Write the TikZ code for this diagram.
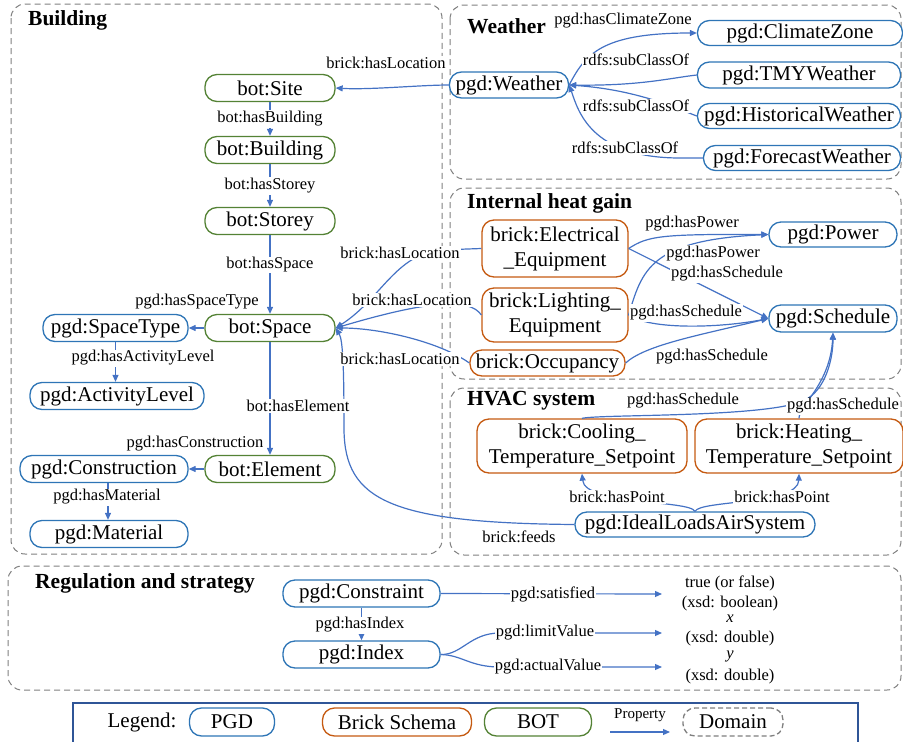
\documentclass[tikz,border=0pt]{standalone}
\usepackage{fontspec}
\setmainfont{Liberation Serif}
\usetikzlibrary{arrows.meta}

\definecolor{pgdblue}{RGB}{46,117,182}
\definecolor{brickorange}{RGB}{197,90,17}
\definecolor{botgreen}{RGB}{84,130,53}
\definecolor{relblue}{RGB}{68,114,196}
\definecolor{domaingray}{RGB}{127,127,127}
\definecolor{legendframe}{RGB}{47,85,151}

\newcommand\nodefont{\fontsize{21}{25}\selectfont}
\newcommand\lblfont{\fontsize{16.5}{18}\selectfont}
\newcommand\valfont{\fontsize{16.5}{20.5}\selectfont}
\newcommand\ttlfont{\fontsize{21.5}{24}\selectfont\bfseries}

\begin{document}
\begin{tikzpicture}[x=1pt,y=-1pt,
  box/.style={rounded corners=12pt, line width=1.3pt, fill=white, minimum height=27pt,
              inner sep=0pt, font=\nodefont, align=center},
  pgd/.style={box, draw=pgdblue},
  brick/.style={box, draw=brickorange},
  bot/.style={box, draw=botgreen},
  domainbox/.style={draw=domaingray, line width=1pt, dash pattern=on 6pt off 4pt, rounded corners=14pt},
  ttl/.style={font=\ttlfont, anchor=west, inner sep=0pt},
  lbl/.style={font=\lblfont, fill=white, inner sep=1pt},
  val/.style={font=\valfont, inner sep=0pt},
  rel/.style={draw=relblue, line width=1.2pt, -{Triangle[length=7pt,width=6pt]}},
]
\useasboundingbox (0,0) rectangle (903,742);

% ---------- domains ----------
\draw[domainbox] (11,4) rectangle (442,554);
\draw[domainbox] (450,5) rectangle (901,179);
\draw[domainbox] (450,188) rectangle (901,379);
\draw[domainbox] (450,388) rectangle (901,555);
\draw[domainbox] (8,566) rectangle (901,690);

% ---------- building ----------
\node[bot, minimum width=130pt] (site) at (270,88) {bot:Site};
\node[bot, minimum width=130pt] (building) at (270,150) {bot:Building};
\node[bot, minimum width=130pt] (storey) at (270,221) {bot:Storey};
\node[bot, minimum width=130pt] (space) at (270,328) {bot:Space};
\node[bot, minimum width=130pt] (element) at (270,469) {bot:Element};
\node[pgd, minimum width=145pt] (spacetype) at (115.5,328) {pgd:SpaceType};
\node[pgd, minimum width=174pt] (activity) at (117,396) {pgd:ActivityLevel};
\node[pgd, minimum width=168pt] (construction) at (104,469) {pgd:Construction};
\node[pgd, minimum width=158pt] (material) at (109,534) {pgd:Material};

% ---------- weather ----------
\node[pgd, minimum width=119pt, minimum height=26pt] (weather) at (509,85) {pgd:Weather};
\node[pgd, minimum width=205pt, minimum height=25pt] (climate) at (800,33) {pgd:ClimateZone};
\node[pgd, minimum width=203pt, minimum height=26pt] (tmy) at (799,75) {pgd:TMYWeather};
\node[pgd, minimum width=203pt, minimum height=25pt] (hist) at (799,116) {pgd:HistoricalWeather};
\node[pgd, minimum width=197pt, minimum height=25pt] (forecast) at (802,158) {pgd:ForecastWeather};

% ---------- internal heat gain ----------
\node[brick, minimum width=146pt, minimum height=57pt] (elec) at (555,248.5) {brick:Electrical\\\_Equipment};
\node[brick, minimum width=146pt, minimum height=54pt] (light) at (555,315) {brick:Lighting\_\\Equipment};
\node[brick, minimum width=155pt, minimum height=26pt] (occ) at (547.5,363) {brick:Occupancy};
\node[pgd, minimum width=128pt, minimum height=25pt] (power) at (833,234.5) {pgd:Power};
\node[pgd, minimum width=128pt, minimum height=27pt] (schedule) at (833,318.5) {pgd:Schedule};

% ---------- HVAC ----------
\node[brick, minimum width=210pt, minimum height=54pt] (cool) at (582,446) {brick:Cooling\_\\Temperature\_Setpoint};
\node[brick, minimum width=208pt, minimum height=54pt] (heat) at (799,446) {brick:Heating\_\\Temperature\_Setpoint};
\node[pgd, minimum width=240pt, minimum height=25pt] (ideal) at (695,524.5) {pgd:IdealLoadsAirSystem};

% ---------- regulation ----------
\node[pgd, minimum width=157pt] (constraint) at (361.5,593.5) {pgd:Constraint};
\node[pgd, minimum width=157pt] (index) at (361.5,654.5) {pgd:Index};
% literal values, one line per node, stacked under each target
\node[val] (boolval) at (730,583) {true (or false)};
\node[val] (booltype) at (730,604) {(xsd: boolean)};
\node[val] (xval) at (730,619) {\textit{x}};
\node[val] (xtype) at (730,639) {(xsd: double)};
\node[val] (yval) at (730,656) {\textit{y}};
\node[val] (ytype) at (730,677) {(xsd: double)};
\coordinate (boolIn) at (662,594);
\coordinate (limitIn) at (662,633);
\coordinate (actualIn) at (662,667);

% ---------- connectors ----------
\draw[rel] (weather.west) .. controls (420,85) and (370,90) .. (site.east);
\draw[rel] (site.south) -- (building.north);
\draw[rel] (building.south) -- (storey.north);
\draw[rel] (storey.south) -- (space.north);
\draw[rel] (space.west) -- (spacetype.east);
\draw[rel] (spacetype.south) -- (spacetype.south |- activity.north);
\draw[rel] (space.south) -- (element.north);
\draw[rel] (element.west) -- (construction.east);
\draw[rel] ([xshift=4pt]construction.south) -- ([xshift=4pt]construction.south |- material.north);

\draw[rel] (weather.east) .. controls (585,55) and (600,33) .. (climate.west);
\draw[rel] (tmy.west) .. controls (670,78) and (640,86) .. (weather.east);
\draw[rel] (hist.west) .. controls (680,110) and (640,90) .. (weather.east);
\draw[rel] (forecast.west) -- (680,158) .. controls (590,158) and (578,110) .. (weather.east);

\draw[rel] (elec.west) -- (440,250) .. controls (395,255) and (380,300) .. (space.east);
\draw[rel] (light.west) .. controls (470,298) and (430,300) .. (space.east);
\draw[rel] (occ.west) .. controls (440,342) and (380,328) .. (space.east);
\draw[rel] (ideal.west) .. controls (390,523) and (345,500) .. (344,430)
                       .. controls (344,370) and (343,340) .. (space.east);

\draw[rel] (elec.east) .. controls (648,236) and (660,234) .. (power.west);
\draw[rel] (light.east) .. controls (642,270) and (650,240) .. (power.west);
\draw[rel] (elec.east) -- (schedule.west);
\draw[rel] (light.east) .. controls (650,330) and (720,328) .. (schedule.west);
\draw[rel] (occ.east) .. controls (645,345) and (700,335) .. (schedule.west);

\draw[rel] (cool.north) .. controls (600,414) and (770,418) .. (805,400)
                        .. controls (825,390) and (833,360) .. (schedule.south);
\draw[rel] (heat.north) .. controls (799,405) and (830,385) .. (schedule.south);
\draw[rel] (ideal.north) .. controls (690,500) and (585,505) .. (cool.south);
\draw[rel] (ideal.north) .. controls (700,500) and (798,505) .. (heat.south);

\draw[rel] (constraint.east) -- (boolIn);
\draw[rel] (constraint.south) -- (index.north);
\draw[rel] (index.east) .. controls (462,655) and (470,633) .. (500,633) -- (limitIn);
\draw[rel] (index.east) .. controls (462,655) and (470,667) .. (500,667) -- (actualIn);

% ---------- property labels ----------
\node[lbl] (lSiteLoc) at (386,63) {brick:hasLocation};
\node[lbl] (lBuilding) at (270,119) {bot:hasBuilding};
\node[lbl] (lStorey) at (270,186) {bot:hasStorey};
\node[lbl] (lSpace) at (270,265) {bot:hasSpace};
\node[lbl] (lSpaceType) at (197,302) {pgd:hasSpaceType};
\node[lbl] (lActivity) at (143,358) {pgd:hasActivityLevel};
\node[lbl] (lElement) at (298,406) {bot:hasElement};
\node[lbl] (lConstr) at (195,444) {pgd:hasConstruction};
\node[lbl] (lMaterial) at (107,497) {pgd:hasMaterial};

\node[lbl] (lClimate) at (623,21) {pgd:hasClimateZone};
\node[lbl] (lSub1) at (636,60) {rdfs:subClassOf};
\node[lbl] (lSub2) at (636,106) {rdfs:subClassOf};
\node[lbl] (lSub3) at (625,148) {rdfs:subClassOf};

\node[lbl] (lLoc1) at (400,253) {brick:hasLocation};
\node[lbl] (lLoc2) at (412,300) {brick:hasLocation};
\node[lbl] (lLoc3) at (400,359) {brick:hasLocation};

\node[lbl] (lPow1) at (692,224) {pgd:hasPower};
\node[lbl] (lPow2) at (713,254) {pgd:hasPower};
\node[lbl] (lSch1) at (727,274) {pgd:hasSchedule};
\node[lbl] (lSch2) at (686,313) {pgd:hasSchedule};
\node[lbl] (lSch3) at (712,357) {pgd:hasSchedule};

\node[lbl] (lSch4) at (683,401) {pgd:hasSchedule};
\node[lbl] (lSch5) at (843,406) {pgd:hasSchedule};
\node[lbl] (lPt1) at (617,497) {brick:hasPoint};
\node[lbl] (lPt2) at (782,497) {brick:hasPoint};
\node[lbl] (lFeeds) at (519,537) {brick:feeds};

\node[lbl] (lSat) at (553,594) {pgd:satisfied};
\node[lbl] (lIdx) at (360,625) {pgd:hasIndex};
\node[lbl] (lLim) at (545,633) {pgd:limitValue};
\node[lbl] (lAct) at (548,667) {pgd:actualValue};

% ---------- domain titles ----------
\node[ttl] (tBuilding) at (28,20) {Building};
\node[ttl] (tWeather) at (467,26) {Weather};
\node[ttl] (tIHG) at (467,203) {Internal heat gain};
\node[ttl] (tHVAC) at (467,401) {HVAC system};
\node[ttl] (tReg) at (35,583) {Regulation and strategy};

% ---------- legend ----------
\draw[draw=legendframe, line width=1.3pt] (73,703) rectangle (858,752);
\node[font=\nodefont, inner sep=0pt] (legTitle) at (142,722) {Legend:};
\node[pgd, minimum width=85pt, minimum height=28pt] (legPgd) at (232,722) {PGD};
\node[brick, minimum width=149pt, minimum height=28pt] (legBrick) at (397,722) {Brick Schema};
\node[bot, minimum width=107pt, minimum height=28pt] (legBot) at (538,722) {BOT};
\node[font=\fontsize{15}{17}\selectfont, inner sep=0pt] (legProp) at (640,715) {Property};
\coordinate (propA) at (610,732);
\coordinate (propB) at (670,732);
\draw[rel] (propA) -- (propB);
\node[box, draw=domaingray, dash pattern=on 5pt off 3pt, minimum width=100pt, minimum height=28pt] (legDomain) at (733,722) {Domain};
\end{tikzpicture}
\end{document}
